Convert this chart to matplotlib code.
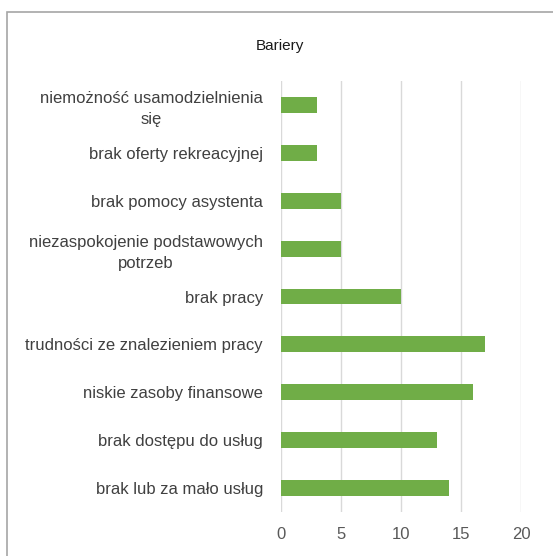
import matplotlib.pyplot as plt
from matplotlib.patches import Rectangle

categories = [
    "niemożność usamodzielnienia\nsię",
    "brak oferty rekreacyjnej",
    "brak pomocy asystenta",
    "niezaspokojenie podstawowych\npotrzeb",
    "brak pracy",
    "trudności ze znalezieniem pracy",
    "niskie zasoby finansowe",
    "brak dostępu do usług",
    "brak lub za mało usług",
]
values = [3, 3, 5, 5, 10, 17, 16, 13, 14]
x_ticks = [0, 5, 10, 15, 20]

plt.rcParams["font.family"] = ["Liberation Sans", "DejaVu Sans"]

fig = plt.figure(figsize=(5.53, 5.56), dpi=100)
fig.patches.append(Rectangle((7 / 553, -0.1), 1.2, (556 - 12) / 556 + 0.1,
                             transform=fig.transFigure, fill=False,
                             edgecolor="#a6a6a6", linewidth=1.2))

ax = fig.add_axes([281 / 553, 44 / 556, 240 / 553, 431 / 556])
pos = list(range(len(categories)))[::-1]
ax.barh(pos, values, height=0.33, color="#70ad47", zorder=3)
ax.set_xlim(0, 20)
ax.set_ylim(-0.5, len(categories) - 0.5)
ax.set_xticks(x_ticks)
ax.set_yticks(pos)
ax.set_yticklabels(categories, fontsize=12, color="#404040",
                   multialignment="center", linespacing=1.45)
ax.tick_params(axis="x", labelsize=12, labelcolor="#595959", length=0, pad=11)
ax.tick_params(axis="y", length=0, pad=13)
ax.grid(axis="x", color="#d9d9d9", linewidth=1, zorder=0)
for s in ax.spines.values():
    s.set_visible(False)

fig.text(280 / 553, 1 - 46 / 556, "Bariery", ha="center", va="center",
         fontsize=11, color="#1a1a1a")

fig.savefig("out.png", dpi=100)
